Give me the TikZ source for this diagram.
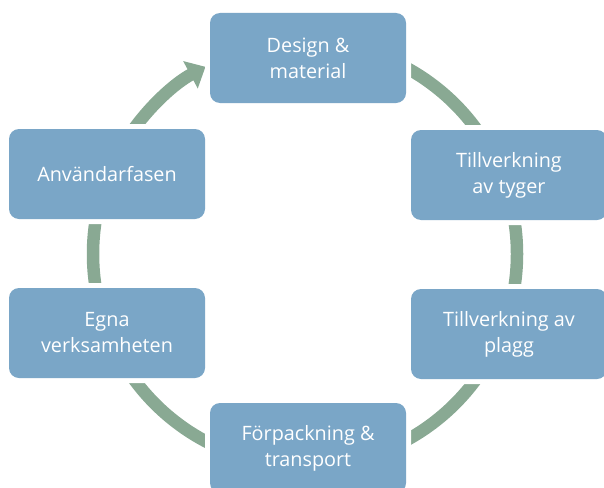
\documentclass[tikz,border=0pt]{standalone}
\usepackage{fontspec}
\setmainfont{Open Sans}
\usepackage{xcolor}
\usetikzlibrary{arrows.meta}

\definecolor{boxblue}{RGB}{122,166,199}
\definecolor{arcgreen}{RGB}{137,169,147}

\begin{document}
\begin{tikzpicture}[x=1pt, y=-1pt,
		phase/.style={fill=boxblue, rounded corners=10pt, minimum width=196pt, minimum height=90pt,
			align=center, text=white, font=\fontsize{19.8}{26}\selectfont,
			preaction={draw=white, line width=10pt}},
		cyclearc/.style={draw=arcgreen, line width=12.5pt}]
		%frame of the picture
		\useasboundingbox (0,0) rectangle (604,487);
		
		%centre and radius of the cycle
		\coordinate (c) at (305,254);
		\def\R{212pt}
		
		%arcs between the phases
		\draw [cyclearc, -{Triangle[width=30pt, length=17pt]}] (c) ++(146:\R) arc (146:118:\R);
		\draw [cyclearc] (c) ++(64:\R) arc (64:34:\R);
		\draw [cyclearc] (c) ++(13:\R) arc (13:-13:\R);
		\draw [cyclearc] (c) ++(-34:\R) arc (-34:-64:\R);
		\draw [cyclearc] (c) ++(-116:\R) arc (-116:-146:\R);
		\draw [cyclearc] (c) ++(167:\R) arc (167:193:\R);
		
		%phases
		\node [phase] (design) at (308,58) {Design \&\\material};
		\node [phase] (tyger) at (509,175) {Tillverkning\\av tyger};
		\node [phase] (plagg) at (509,334) {Tillverkning av\\plagg};
		\node [phase] (transport) at (308,448) {Förpackning \&\\transport};
		\node [phase] (egna) at (107,333) {Egna\\verksamheten};
		\node [phase] (user) at (107,174) {Användarfasen};
	\end{tikzpicture}
\end{document}
